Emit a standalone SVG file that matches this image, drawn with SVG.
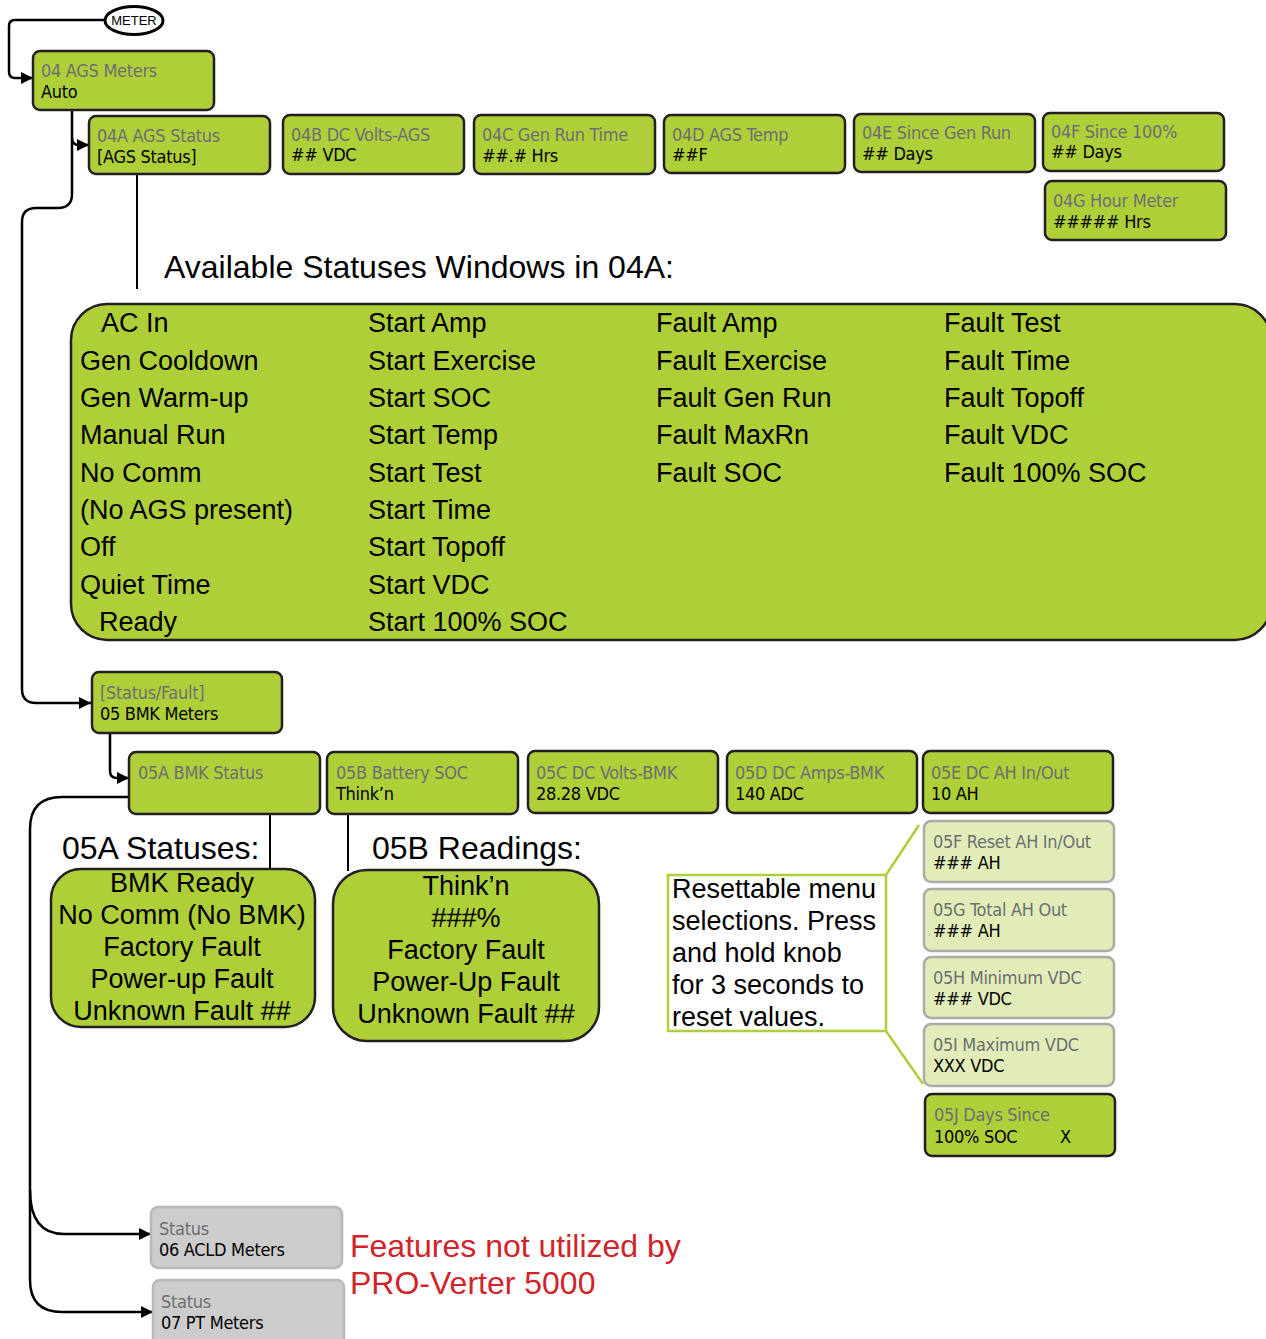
<svg xmlns="http://www.w3.org/2000/svg" width="1266" height="1339" viewBox="0 0 1266 1339">
  <defs>
    <marker id="arrow" markerWidth="12" markerHeight="12" refX="12" refY="6" orient="auto" markerUnits="userSpaceOnUse">
      <path d="M0,0 L12,6 L0,12 Z" fill="#000"/>
    </marker>
    <style>
      .box { fill: #AECF38; stroke: #231F20; stroke-width: 2.5; }
      .lite { fill: #E1ECB9; stroke: #A9ABA6; stroke-width: 2.5; }
      .grey { fill: #CCCCCC; stroke: #B8B8B8; stroke-width: 2.5; }
      .cond { font-family: "Liberation Sans Narrow", "DejaVu Sans Condensed", "Liberation Sans", sans-serif; font-stretch: condensed; font-size: 18px; letter-spacing: -0.3px; }
      .ttl { fill: #6D6E71; }
      .val { fill: #000; }
      .big { font-family: "Liberation Sans", Arial, sans-serif; font-size: 27px; fill: #000; }
      .head { font-family: "Liberation Sans", Arial, sans-serif; font-size: 32px; fill: #000; }
      .mid { text-anchor: middle; }
      .red { font-family: "Liberation Sans", Arial, sans-serif; font-size: 32px; fill: #D2232A; }
      .wire { fill: none; stroke: #000; stroke-width: 2.5; }
      .thin { fill: none; stroke: #000; stroke-width: 2; }
      .lead { fill: none; stroke: #AECF38; stroke-width: 2.5; }
    </style>
  </defs>

  <!-- connectors -->
  <g id="connectors">
    <path class="wire" d="M105,20 H15 Q9,20 9,26 V72 Q9,78 15,78 H33" marker-end="url(#arrow)"/>
    <path class="wire" d="M72,138 Q72,145 79,145 H89" marker-end="url(#arrow)"/>
    <path class="wire" d="M72,110 V194 Q72,208 58,208 H36 Q22,208 22,222 V689 Q22,703 36,703 H91" marker-end="url(#arrow)"/>
    <path class="wire" d="M110,733 V771 Q110,778 117,778 H129" marker-end="url(#arrow)"/>
    <path class="wire" d="M129,797 H62 Q30,797 30,829 V1280 Q30,1312 62,1312 H153" marker-end="url(#arrow)"/>
    <path class="wire" d="M30,1190 Q30,1234 64,1234 H151" marker-end="url(#arrow)"/>
    <path class="thin" d="M137,174 V289"/>
    <path class="thin" d="M270,814 V869"/>
    <path class="thin" d="M348,814 V871"/>
    <path class="lead" d="M886,875 L919,825"/>
    <path class="lead" d="M886,1031 L923,1084"/>
  </g>

  <!-- entry point -->
  <g id="meter">
    <ellipse cx="134" cy="20.5" rx="29" ry="14" fill="#fff" stroke="#000" stroke-width="3"/>
    <text x="134" y="25" class="mid" font-family="Liberation Sans, Arial, sans-serif" font-size="13" fill="#000">METER</text>
  </g>

  <!-- 04 AGS menu -->
  <g id="n04">
    <rect class="box" x="33" y="51" width="181" height="59" rx="7"/>
    <text class="cond ttl" x="41" y="77">04 AGS Meters</text>
    <text class="cond val" x="41" y="98">Auto</text>
  </g>
  <g id="n04A">
    <rect class="box" x="89" y="116" width="181" height="58" rx="7"/>
    <text class="cond ttl" x="97" y="142">04A AGS Status</text>
    <text class="cond val" x="97" y="163">[AGS Status]</text>
  </g>
  <g id="n04B">
    <rect class="box" x="283" y="115" width="181" height="59" rx="7"/>
    <text class="cond ttl" x="291" y="141">04B DC Volts-AGS</text>
    <text class="cond val" x="291" y="161">## VDC</text>
  </g>
  <g id="n04C">
    <rect class="box" x="474" y="115" width="181" height="59" rx="7"/>
    <text class="cond ttl" x="482" y="141">04C Gen Run Time</text>
    <text class="cond val" x="482" y="162">##.# Hrs</text>
  </g>
  <g id="n04D">
    <rect class="box" x="664" y="115" width="181" height="58" rx="7"/>
    <text class="cond ttl" x="672" y="141">04D AGS Temp</text>
    <text class="cond val" x="672" y="161">##F</text>
  </g>
  <g id="n04E">
    <rect class="box" x="854" y="114" width="181" height="58" rx="7"/>
    <text class="cond ttl" x="862" y="139">04E Since Gen Run</text>
    <text class="cond val" x="862" y="160">## Days</text>
  </g>
  <g id="n04F">
    <rect class="box" x="1043" y="113" width="181" height="58" rx="7"/>
    <text class="cond ttl" x="1051" y="138">04F Since 100%</text>
    <text class="cond val" x="1051" y="158">## Days</text>
  </g>
  <g id="n04G">
    <rect class="box" x="1045" y="181" width="181" height="59" rx="7"/>
    <text class="cond ttl" x="1053" y="207">04G Hour Meter</text>
    <text class="cond val" x="1053" y="228">##### Hrs</text>
  </g>

  <!-- AGS status list -->
  <g id="ags-statuses">
    <text class="head" x="164" y="278">Available Statuses Windows in 04A:</text>
    <rect class="box" x="71" y="304" width="1200" height="336" rx="36"/>
    <g class="big">
      <text x="101" y="332">AC In</text>
      <text x="80" y="370">Gen Cooldown</text>
      <text x="80" y="407">Gen Warm-up</text>
      <text x="80" y="444">Manual Run</text>
      <text x="80" y="482">No Comm</text>
      <text x="80" y="519">(No AGS present)</text>
      <text x="80" y="556">Off</text>
      <text x="80" y="594">Quiet Time</text>
      <text x="99" y="631">Ready</text>

      <text x="368" y="332">Start Amp</text>
      <text x="368" y="370">Start Exercise</text>
      <text x="368" y="407">Start SOC</text>
      <text x="368" y="444">Start Temp</text>
      <text x="368" y="482">Start Test</text>
      <text x="368" y="519">Start Time</text>
      <text x="368" y="556">Start Topoff</text>
      <text x="368" y="594">Start VDC</text>
      <text x="368" y="631">Start 100% SOC</text>

      <text x="656" y="332">Fault Amp</text>
      <text x="656" y="370">Fault Exercise</text>
      <text x="656" y="407">Fault Gen Run</text>
      <text x="656" y="444">Fault MaxRn</text>
      <text x="656" y="482">Fault SOC</text>

      <text x="944" y="332">Fault Test</text>
      <text x="944" y="370">Fault Time</text>
      <text x="944" y="407">Fault Topoff</text>
      <text x="944" y="444">Fault VDC</text>
      <text x="944" y="482">Fault 100% SOC</text>
    </g>
  </g>

  <!-- 05 BMK menu -->
  <g id="n05">
    <rect class="box" x="92" y="672" width="190" height="61" rx="7"/>
    <text class="cond ttl" x="100" y="699">[Status/Fault]</text>
    <text class="cond val" x="100" y="720">05 BMK Meters</text>
  </g>
  <g id="n05A">
    <rect class="box" x="129" y="752" width="191" height="62" rx="7"/>
    <text class="cond ttl" x="138" y="779">05A BMK Status</text>
  </g>
  <g id="n05B">
    <rect class="box" x="327" y="752" width="191" height="62" rx="7"/>
    <text class="cond ttl" x="336" y="779">05B Battery SOC</text>
    <text class="cond val" x="336" y="800">Think’n</text>
  </g>
  <g id="n05C">
    <rect class="box" x="528" y="751" width="190" height="62" rx="7"/>
    <text class="cond ttl" x="536" y="779">05C DC Volts-BMK</text>
    <text class="cond val" x="536" y="800">28.28 VDC</text>
  </g>
  <g id="n05D">
    <rect class="box" x="727" y="751" width="190" height="62" rx="7"/>
    <text class="cond ttl" x="735" y="779">05D DC Amps-BMK</text>
    <text class="cond val" x="735" y="800">140 ADC</text>
  </g>
  <g id="n05E">
    <rect class="box" x="923" y="751" width="190" height="62" rx="7"/>
    <text class="cond ttl" x="931" y="779">05E DC AH In/Out</text>
    <text class="cond val" x="931" y="800">10 AH</text>
  </g>
  <g id="n05F">
    <rect class="lite" x="924" y="821" width="190" height="61" rx="7"/>
    <text class="cond ttl" x="933" y="848">05F Reset AH In/Out</text>
    <text class="cond val" x="933" y="869">### AH</text>
  </g>
  <g id="n05G">
    <rect class="lite" x="924" y="889" width="190" height="62" rx="7"/>
    <text class="cond ttl" x="933" y="916">05G Total AH Out</text>
    <text class="cond val" x="933" y="937">### AH</text>
  </g>
  <g id="n05H">
    <rect class="lite" x="924" y="957" width="190" height="61" rx="7"/>
    <text class="cond ttl" x="933" y="984">05H Minimum VDC</text>
    <text class="cond val" x="933" y="1005">### VDC</text>
  </g>
  <g id="n05I">
    <rect class="lite" x="924" y="1024" width="190" height="62" rx="7"/>
    <text class="cond ttl" x="933" y="1051">05I Maximum VDC</text>
    <text class="cond val" x="933" y="1072">XXX VDC</text>
  </g>
  <g id="n05J">
    <rect class="box" x="925" y="1094" width="190" height="62" rx="7"/>
    <text class="cond ttl" x="934" y="1121">05J Days Since</text>
    <text class="cond val" x="934" y="1143">100% SOC</text>
    <text class="cond val" x="1060" y="1143">X</text>
  </g>

  <!-- resettable note -->
  <g id="note">
    <rect x="668" y="875" width="218" height="156" fill="#fff" stroke="#AECF38" stroke-width="2.5"/>
    <g class="big">
      <text x="672" y="898">Resettable menu</text>
      <text x="672" y="930">selections. Press</text>
      <text x="672" y="962">and hold knob</text>
      <text x="672" y="994">for 3 seconds to</text>
      <text x="672" y="1026">reset values.</text>
    </g>
  </g>

  <!-- BMK statuses and readings -->
  <g id="bmk-statuses">
    <text class="head" x="62" y="859">05A Statuses:</text>
    <rect class="box" x="51" y="869" width="264" height="158" rx="30"/>
    <g class="big mid">
      <text x="182" y="892">BMK Ready</text>
      <text x="182" y="924">No Comm (No BMK)</text>
      <text x="182" y="956">Factory Fault</text>
      <text x="182" y="988">Power-up Fault</text>
      <text x="182" y="1020">Unknown Fault ##</text>
    </g>
  </g>
  <g id="bmk-readings">
    <text class="head" x="372" y="859">05B Readings:</text>
    <rect class="box" x="333" y="870" width="266" height="171" rx="34"/>
    <g class="big mid">
      <text x="466" y="895">Think’n</text>
      <text x="466" y="927">###%</text>
      <text x="466" y="959">Factory Fault</text>
      <text x="466" y="991">Power-Up Fault</text>
      <text x="466" y="1023">Unknown Fault ##</text>
    </g>
  </g>

  <!-- unused menus -->
  <g id="n06">
    <rect class="grey" x="151" y="1207" width="191" height="61" rx="7"/>
    <text class="cond ttl" x="159" y="1235">Status</text>
    <text class="cond val" x="159" y="1256">06 ACLD Meters</text>
  </g>
  <g id="n07">
    <rect class="grey" x="153" y="1280" width="191" height="70" rx="7"/>
    <text class="cond ttl" x="161" y="1308">Status</text>
    <text class="cond val" x="161" y="1329">07 PT Meters</text>
  </g>
  <g id="unused-note">
    <text class="red" x="350" y="1257">Features not utilized by</text>
    <text class="red" x="350" y="1294">PRO-Verter 5000</text>
  </g>
</svg>
